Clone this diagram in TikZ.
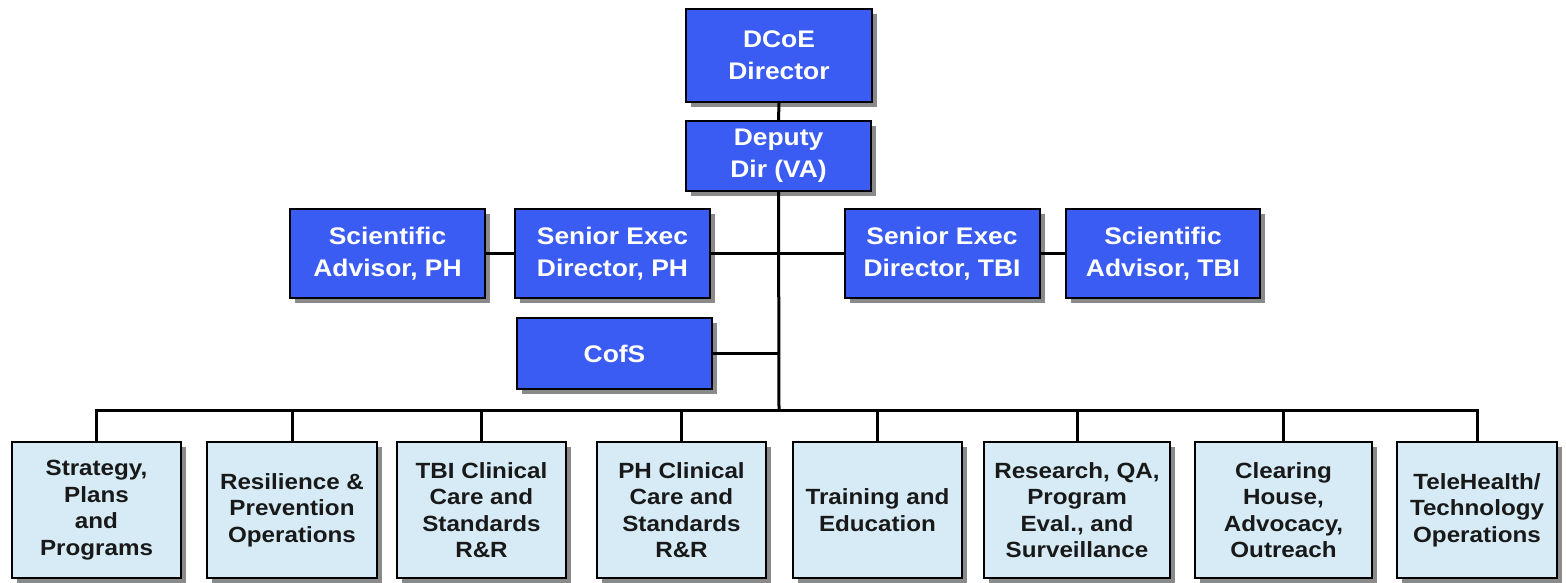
\documentclass[tikz,border=0pt]{standalone}
\usepackage{fontspec}
\setmainfont[FakeStretch=1.1]{Liberation Sans}
\usetikzlibrary{shadows}
\definecolor{boxblue}{HTML}{3A5CF2}
\definecolor{boxlight}{HTML}{D6EBF5}
\definecolor{shadowgray}{HTML}{8A8A8A}
\tikzset{
  base/.style={draw=black, line width=2pt, inner sep=0pt, align=center,
    drop shadow={shadow xshift=5pt, shadow yshift=-5pt, fill=shadowgray, opacity=1}},
  topbox/.style={base, fill=boxblue, text=white,
    font=\bfseries\fontsize{24}{32}\selectfont},
  unitbox/.style={base, fill=boxlight, text=black!90,
    minimum height=136pt, font=\bfseries\fontsize{22}{26.5}\selectfont},
  conn/.style={draw=black, line width=3pt}
}
\begin{document}
\begin{tikzpicture}[x=1pt,y=-1pt]
\useasboundingbox (0,0) rectangle (1566,582);
\fill[white] (0,0) rectangle (1566,582);
\coordinate (bus) at (779,410);
\node[topbox, minimum width=186pt, minimum height=93pt] (dir) at (779,55.5) {DCoE\\Director};
\node[topbox, minimum width=185pt, minimum height=70pt] (dep) at (778.5,156) {Deputy\\Dir (VA)};
\node[topbox, minimum width=195pt, minimum height=89pt] (sap) at (387.5,253.5) {Scientific\\Advisor, PH};
\node[topbox, minimum width=195pt, minimum height=89pt] (sep) at (612.5,253.5) {Senior Exec\\Director, PH};
\node[topbox, minimum width=195pt, minimum height=89pt] (set) at (942,253.5) {Senior Exec\\Director, TBI};
\node[topbox, minimum width=194pt, minimum height=89pt] (sat) at (1163,253.5) {Scientific\\Advisor, TBI};
\node[topbox, minimum width=195pt, minimum height=71pt] (cofs) at (614.5,353.5) {CofS};
\node[unitbox, minimum width=169pt] (b1) at (96.5,510) {Strategy,\\Plans\\and\\Programs};
\node[unitbox, minimum width=170pt] (b2) at (292,510) {Resilience \&\\Prevention\\Operations};
\node[unitbox, minimum width=169pt] (b3) at (481.5,510) {TBI Clinical\\Care and\\Standards\\R\&R};
\node[unitbox, minimum width=169pt] (b4) at (681.5,510) {PH Clinical\\Care and\\Standards\\R\&R};
\node[unitbox, minimum width=169pt] (b5) at (877.5,510) {Training and\\Education};
\node[unitbox, minimum width=186pt] (b6) at (1077,510) {Research, QA,\\Program\\Eval., and\\Surveillance};
\node[unitbox, minimum width=177pt] (b7) at (1283.5,510) {Clearing\\House,\\Advocacy,\\Outreach};
\node[unitbox, minimum width=160pt] (b8) at (1477,510) {TeleHealth/\\Technology\\Operations};
% connectors
\draw[conn] (dir.south) -- (dep.north);
\draw[conn] (dep.south) -- (bus);
\draw[conn] (sap.east) -- (sep.west);
\draw[conn] (sep.east) -- (set.west);
\draw[conn] (set.east) -- (sat.west);
\draw[conn] (cofs.east) -- (cofs.east -| bus);
\draw[conn] (b1.north) |- (bus) -| (b8.north);
\foreach \b in {b2,b3,b4,b5,b6,b7} {
  \draw[conn] (\b.north) -- (\b.north |- bus);
}
\end{tikzpicture}
\end{document}
